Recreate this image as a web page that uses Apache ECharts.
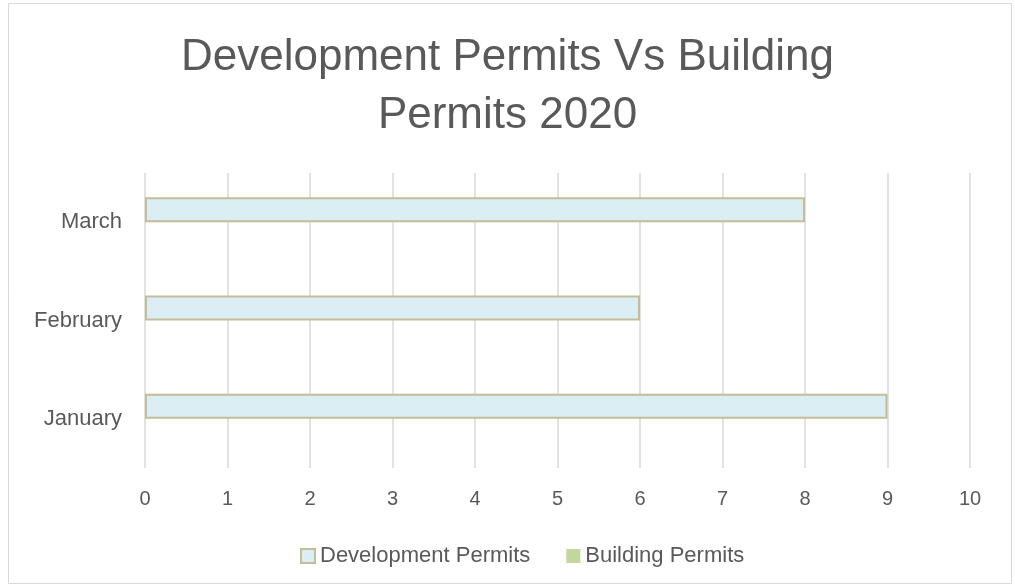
<!DOCTYPE html>
<html><head><meta charset="utf-8">
<script src="https://cdn.jsdelivr.net/npm/echarts@6/dist/echarts.min.js"></script>
<style>html,body{margin:0;padding:0;background:#fff}#c{width:1015px;height:587px}</style>
</head><body><div id="c"></div>
<script>
const titleText = 'Development Permits Vs Building\nPermits 2020';
const categories = ['January', 'February', 'March'];
const developmentPermits = [9, 6, 8];
const buildingPermits = [0, 0, 0];
const seriesNames = ['Development Permits', 'Building Permits'];
const xTicks = {min: 0, max: 10, interval: 1};

const chart = echarts.init(document.getElementById('c'), null, {renderer: 'canvas'});
const font = 'Liberation Sans';
const txt = '#595959';
chart.setOption({
  animation: false,
  graphic: [{type: 'rect', shape: {x: 8.5, y: 3.5, width: 1003, height: 580}, style: {fill: 'none', stroke: '#d9d9d9', lineWidth: 1}, silent: true}],
  title: {text: titleText, left: 'center', top: 24, textStyle: {fontFamily: font, fontSize: 44, fontWeight: 'normal', color: txt, lineHeight: 58}},
  grid: {left: 145, right: 45, top: 173, bottom: 119, containLabel: false},
  legend: {top: 540, left: 295, itemWidth: 14, itemHeight: 14, itemGap: 36,
    textStyle: {fontFamily: font, fontSize: 22, color: txt}, data: seriesNames.map(n => ({name: n, icon: 'rect'}))},
  xAxis: {type: 'value', min: xTicks.min, max: xTicks.max, interval: xTicks.interval,
    axisLine: {show: false}, axisTick: {show: false},
    splitLine: {lineStyle: {color: '#d9d9d9', width: 1.5}},
    axisLabel: {fontFamily: font, fontSize: 20, color: txt, margin: 21}},
  yAxis: {type: 'category', data: categories, axisLine: {show: false}, axisTick: {show: false},
    axisLabel: {fontFamily: font, fontSize: 22, color: txt, margin: 23}},
  series: [
    {name: seriesNames[0], type: 'bar', data: developmentPermits, barWidth: 25, barGap: '0%',
      itemStyle: {color: '#dbeef3', borderColor: '#c4bd97', borderWidth: 2}},
    {name: seriesNames[1], type: 'bar', data: buildingPermits, barWidth: 25, barGap: '0%',
      itemStyle: {color: '#c3d69b', borderWidth: 0}}
  ]
});
</script></body></html>
